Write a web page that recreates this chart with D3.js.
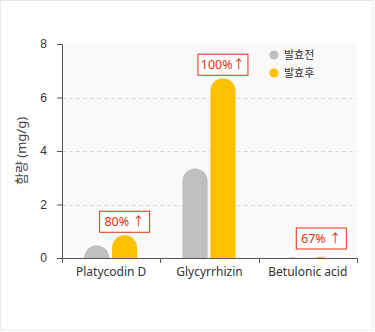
<!DOCTYPE html>
<html>
<head>
<meta charset="utf-8">
<script src="https://cdn.jsdelivr.net/npm/d3@7"></script>
<style>
  html, body { margin: 0; padding: 0; background: #fff; }
  svg { display: block; font-family: "Noto Sans", "Noto Sans CJK KR", sans-serif; }
</style>
</head>
<body>
<svg id="chart" width="375" height="332"></svg>
<script>
// Compound content before and after fermentation (mg/g)
const categories = ["Platycodin D", "Glycyrrhizin", "Betulonic acid"];
const seriesNames = ["발효전", "발효후"];
const before = [0.47, 3.35, 0.03];
const after = [0.85, 6.72, 0.05];
const increaseLabels = ["80% ↑", "100%↑", "67% ↑"];
const yTicks = [0, 2, 4, 6, 8];
const colors = ["#bfbfbf", "#ffc000"];

const svg = d3.select("#chart");
const W = 375, H = 332;
const margin = { left: 62, right: 18, top: 44, bottom: 74 };
const plotW = W - margin.left - margin.right;
const plotH = H - margin.top - margin.bottom;

// outer frame
svg.append("rect")
  .attr("x", 0.5).attr("y", 0.5).attr("width", W - 2.5).attr("height", H - 2.5)
  .attr("fill", "#fff").attr("stroke", "#e8e8e8");

const g = svg.append("g").attr("transform", `translate(${margin.left},${margin.top})`);

const x = d3.scaleBand().domain(categories).range([0, plotW]);
const xSeries = d3.scaleBand().domain(seriesNames).range([0, 53]).paddingInner(0.1);
const y = d3.scaleLinear().domain([0, 8]).range([plotH, 0]);

// plot background
g.append("rect").attr("width", plotW).attr("height", plotH).attr("fill", "#f9f9f9");

// dashed gridlines
g.selectAll(".grid").data(yTicks.filter(t => t > 0 && t < 8)).join("line")
  .attr("x1", 0).attr("x2", plotW)
  .attr("y1", d => Math.round(y(d)) + 0.5).attr("y2", d => Math.round(y(d)) + 0.5)
  .attr("stroke", "#ddd9cc").attr("stroke-dasharray", "4,3");

// bars with rounded tops, clipped at the baseline
g.append("clipPath").attr("id", "plotClip")
  .append("rect").attr("x", 0).attr("y", -20).attr("width", plotW).attr("height", plotH + 20);

const barW = xSeries.bandwidth();
const series = [before, after];
const barsG = g.append("g").attr("clip-path", "url(#plotClip)");
series.forEach((vals, si) => {
  barsG.selectAll(".bar" + si).data(categories).join("rect")
    .attr("x", d => x(d) + x.bandwidth() / 2 - 27 + xSeries(seriesNames[si]))
    .attr("y", (d, i) => y(vals[i]))
    .attr("width", barW)
    .attr("height", (d, i) => plotH - y(vals[i]) + barW)
    .attr("rx", barW / 2)
    .attr("fill", colors[si]);
});

// y axis
const yAxis = g.append("g").call(d3.axisLeft(y).tickValues(yTicks).tickSize(5).tickPadding(10).tickFormat(d3.format("d")));
yAxis.select(".domain").attr("stroke", "#555").attr("d", `M-5,0.5H0.5V${plotH + 0.5}`);
yAxis.selectAll(".tick line").attr("stroke", "#555");
yAxis.selectAll(".tick text").attr("fill", "#333").attr("font-size", 12);

// x axis with ticks at category boundaries
const xAxisG = g.append("g").attr("transform", `translate(0,${plotH})`);
xAxisG.append("line").attr("x1", -5).attr("x2", plotW).attr("y1", 0.5).attr("y2", 0.5).attr("stroke", "#555");
xAxisG.selectAll(".xt").data(d3.range(categories.length + 1)).join("line")
  .attr("x1", i => Math.round(i * x.step()) + 0.5).attr("x2", i => Math.round(i * x.step()) + 0.5)
  .attr("y1", 0).attr("y2", 5).attr("stroke", "#555");
xAxisG.selectAll(".xl").data(categories).join("text")
  .attr("x", d => x(d) + x.bandwidth() / 2).attr("y", 18)
  .attr("text-anchor", "middle").attr("fill", "#333").attr("font-size", 12)
  .text(d => d);

// y axis title
svg.append("text")
  .attr("transform", `translate(26,${margin.top + plotH / 2}) rotate(-90)`)
  .attr("text-anchor", "middle").attr("fill", "#444").attr("font-size", 13)
  .text("함량 (mg/g)");

// increase callouts above the fermented bars
const callouts = g.selectAll(".callout").data(categories).join("g")
  .attr("transform", (d, i) => {
    const cx = x(d) + x.bandwidth() / 2 - 27 + xSeries(seriesNames[1]) + barW / 2;
    const bottom = Math.min(y(after[i]) - 3, plotH - 9);
    return `translate(${cx},${bottom})`;
  });
callouts.append("rect")
  .attr("x", -25).attr("y", -21).attr("width", 50).attr("height", 21)
  .attr("fill", "#fff").attr("stroke", "#e3300e").attr("stroke-width", 1);
callouts.append("text")
  .attr("x", 0).attr("y", -6).attr("text-anchor", "middle")
  .attr("fill", "#e3300e").attr("font-size", 12.5)
  .text((d, i) => increaseLabels[i]);

// legend
const legend = svg.append("g").attr("transform", "translate(274,55)");
seriesNames.forEach((n, i) => {
  const row = legend.append("g").attr("transform", `translate(0,${i * 18})`);
  row.append("circle").attr("r", 4.5).attr("fill", colors[i]);
  row.append("text").attr("x", 10).attr("y", 4).attr("font-size", 11).attr("fill", "#333").text(n);
});
</script>
</body>
</html>
